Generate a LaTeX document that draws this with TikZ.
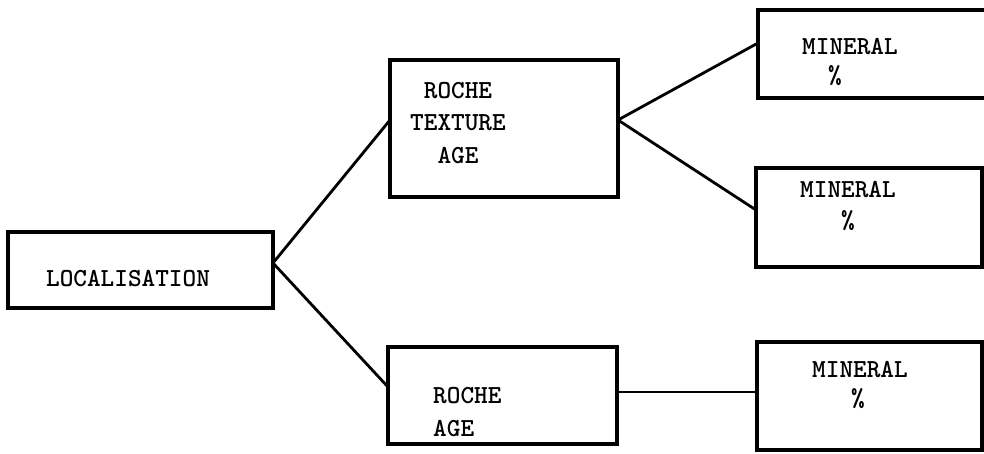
\documentclass[tikz,border=0pt]{standalone}
\usepackage{fontspec}
\begin{document}
\begin{tikzpicture}[x=1pt,y=-1pt,
  box/.style={draw=black, line width=3.8pt, rectangle, outer sep=0pt, inner sep=0pt},
  link/.style={draw=black, line width=2.8pt, line cap=round},
  lbl/.style={inner sep=0pt, text height=16pt, text depth=0pt,
              font=\ttfamily\bfseries\fontsize{26}{30}\selectfont, text=black}]
  \useasboundingbox (0,0) rectangle (984,453);
  \clip (0,0) rectangle (984,453);

  % boxes
  \node[box, minimum width=265pt, minimum height=76pt]  (loc) at (140.5,270) {};
  \node[box, minimum width=228pt, minimum height=137pt] (rta) at (504,128.5) {};
  \node[box, minimum width=229pt, minimum height=97pt]  (ra)  at (502.5,395.5) {};
  \node[box, minimum width=230pt, minimum height=88pt]  (m1)  at (873,54) {};
  \node[box, minimum width=226pt, minimum height=99pt]  (m2)  at (869,217.5) {};
  \node[box, minimum width=225pt, minimum height=108pt] (m3)  at (869.5,396) {};

  % labels
  \node[lbl] (tloc) at (128,278) {LOCALISATION};
  \node[lbl] (t1a) at (458,90)  {ROCHE};
  \node[lbl] (t1b) at (458,122) {TEXTURE};
  \node[lbl] (t1c) at (458,155) {AGE};
  \node[lbl, anchor=west] (t2a) at (433,395) {ROCHE};
  \node[lbl, anchor=west] (t2b) at (433,428) {AGE};
  \node[lbl] (m1a) at (850,46)  {MINERAL};
  \node[lbl] (m1b) at (835,75)  {\%};
  \node[lbl] (m2a) at (848,189) {MINERAL};
  \node[lbl] (m2b) at (848,220) {\%};
  \node[lbl] (m3a) at (860,369) {MINERAL};
  \node[lbl] (m3b) at (858,398) {\%};

  % connectors
  \draw[link] ([yshift=7pt]loc.east) -- ([yshift=8.5pt]rta.west);
  \draw[link] ([yshift=7pt]loc.east) -- ([yshift=8.5pt]ra.west);
  \draw[link] ([yshift=8.5pt]rta.east) -- ([yshift=11pt]m1.west);
  \draw[link] ([yshift=8.5pt]rta.east) -- ([yshift=7.5pt]m2.west);
  \draw[link] ([yshift=3.5pt]ra.east) -- ([yshift=4pt]m3.west);
\end{tikzpicture}
\end{document}
